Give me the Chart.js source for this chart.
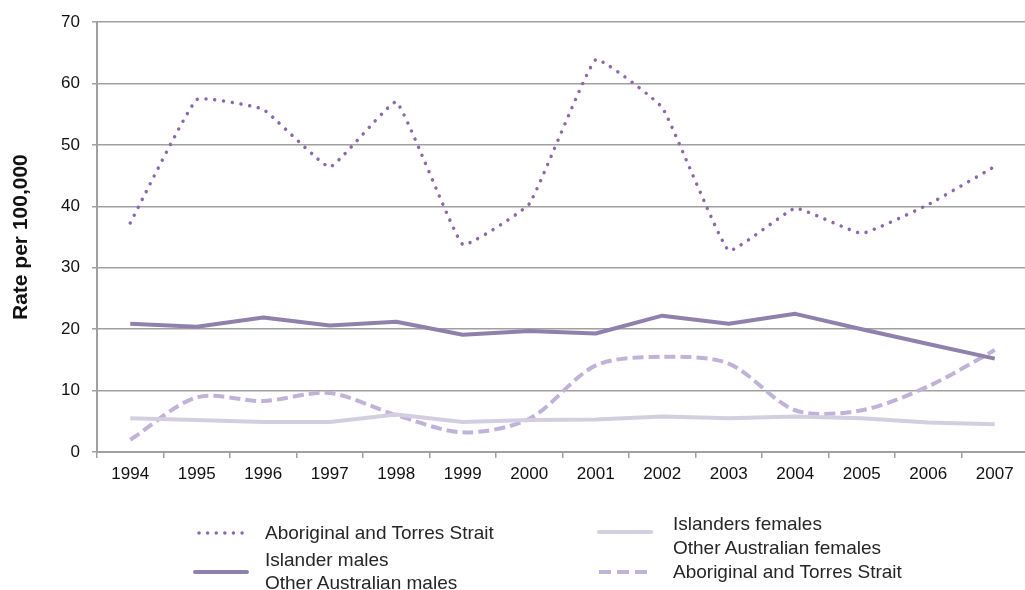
<!DOCTYPE html>
<html>
<head>
<meta charset="utf-8">
<script src="https://cdn.jsdelivr.net/npm/chart.js@4/dist/chart.umd.min.js"></script>
<style>
  html, body { margin: 0; padding: 0; background: #fff; }
  body { width: 1025px; height: 590px; overflow: hidden; position: relative; font-family: "Liberation Sans", Arial, sans-serif; }
  #wrap { position: absolute; left: 0; top: 0; width: 1030px; height: 590px; }
  .lg { position: absolute; font-size: 19px; color: #262626; white-space: nowrap; line-height: 20px; }
  .sw { position: absolute; }
</style>
</head>
<body>
<div id="wrap"><canvas id="chart" width="1030" height="590"></canvas></div>

<!-- легенда в том же порядке, как на исходной картинке -->
<svg class="sw" style="left:196px;top:528px" width="56" height="10"><line x1="3" y1="5" x2="52" y2="5" stroke="#8a68b0" stroke-width="3.5" stroke-linecap="round" stroke-dasharray="0.01 8.6"/></svg>
<div class="lg" style="left:265px;top:523px">Aboriginal and Torres Strait</div>
<div class="lg" style="left:265px;top:550px">Islander males</div>
<svg class="sw" style="left:192px;top:567px" width="58" height="10"><line x1="3" y1="5" x2="55" y2="5" stroke="#9081ac" stroke-width="4" stroke-linecap="round"/></svg>
<div class="lg" style="left:265px;top:573px">Other Australian males</div>

<svg class="sw" style="left:596px;top:527px" width="58" height="10"><line x1="3" y1="5" x2="55" y2="5" stroke="#d3cfe0" stroke-width="4" stroke-linecap="round"/></svg>
<div class="lg" style="left:673px;top:514px">Islanders females</div>
<div class="lg" style="left:673px;top:538px">Other Australian females</div>
<svg class="sw" style="left:596px;top:567px" width="58" height="10"><line x1="3" y1="5" x2="55" y2="5" stroke="#c1b3d8" stroke-width="4" stroke-dasharray="12 6"/></svg>
<div class="lg" style="left:673px;top:562px">Aboriginal and Torres Strait</div>

<script>
// годы по оси X
const years = ['1994','1995','1996','1997','1998','1999','2000','2001','2002','2003','2004','2005','2006','2007'];

// значения (на 100 000)
const indigenousMales   = [37.3, 57.4, 55.8, 46.4, 57.0, 33.8, 40.4, 63.9, 56.1, 32.8, 39.7, 35.6, 40.3, 46.5];
const otherMales        = [20.9, 20.4, 21.9, 20.6, 21.2, 19.1, 19.7, 19.3, 22.2, 20.9, 22.5, 20.0, 17.6, 15.2];
const otherFemales      = [5.5, 5.2, 4.9, 4.9, 6.1, 4.9, 5.2, 5.3, 5.8, 5.5, 5.8, 5.5, 4.8, 4.5];
const indigenousFemales = [2.0, 8.9, 8.3, 9.6, 6.0, 3.2, 5.4, 14.1, 15.5, 14.4, 6.8, 6.8, 10.7, 16.6];

const yTicks = [0, 10, 20, 30, 40, 50, 60, 70];
const yTitle = 'Rate per 100,000';

const axisFont = { family: '"Liberation Sans", Arial, sans-serif', size: 17 };

new Chart(document.getElementById('chart').getContext('2d'), {
  type: 'line',
  data: {
    labels: years,
    datasets: [
      {
        label: 'Aboriginal and Torres Strait Islander males',
        data: indigenousMales,
        borderColor: '#8a68b0',
        borderWidth: 3.5,
        borderDash: [0.01, 8.8],
        borderCapStyle: 'round',
        tension: 0.1,
        pointRadius: 0
      },
      {
        label: 'Other Australian males',
        data: otherMales,
        borderColor: '#9081ac',
        borderWidth: 4,
        borderJoinStyle: 'round',
        tension: 0,
        pointRadius: 0
      },
      {
        label: 'Other Australian females',
        data: otherFemales,
        borderColor: '#d3cfe0',
        borderWidth: 4,
        borderJoinStyle: 'round',
        tension: 0,
        pointRadius: 0
      },
      {
        label: 'Aboriginal and Torres Strait Islanders females',
        data: indigenousFemales,
        borderColor: '#c1b3d8',
        borderWidth: 4,
        borderDash: [11, 5],
        tension: 0.3,
        pointRadius: 0
      }
    ]
  },
  options: {
    responsive: false,
    animation: false,
    layout: { padding: { top: 16, right: 2, left: 0, bottom: 0 } },
    plugins: {
      legend: { display: false },
      tooltip: { enabled: false }
    },
    scales: {
      x: {
        offset: true,
        grid: {
          offset: true,
          drawOnChartArea: false,
          drawTicks: true,
          tickLength: 6,
          color: '#a0a0a0',
          lineWidth: 1.5
        },
        border: { color: '#a0a0a0', width: 2 },
        ticks: { color: '#111', font: axisFont, padding: 6, maxRotation: 0, autoSkip: false },
        afterFit(scale) { scale.height = 590 - 452; }
      },
      y: {
        min: 0,
        max: 70,
        afterBuildTicks(scale) { scale.ticks = yTicks.map(v => ({ value: v })); },
        grid: { color: '#a0a0a0', lineWidth: 1.5, tickLength: 5 },
        border: { color: '#a0a0a0', width: 2 },
        ticks: { color: '#111', font: axisFont, padding: 12 },
        title: {
          display: true,
          text: yTitle,
          color: '#111',
          font: { family: '"Liberation Sans", Arial, sans-serif', size: 21, weight: 'bold' },
          padding: { top: 9, bottom: 0 }
        },
        afterFit(scale) { scale.width = 97; }
      }
    }
  }
});
</script>
</body>
</html>
